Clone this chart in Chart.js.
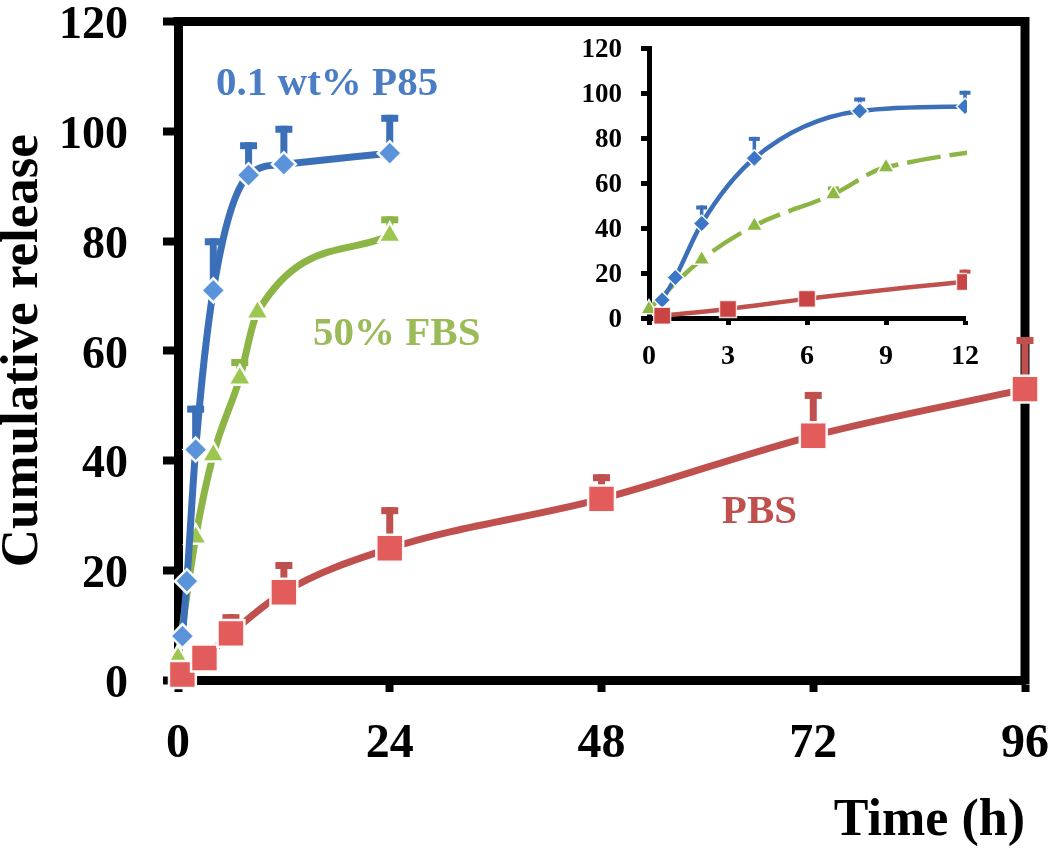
<!DOCTYPE html>
<html>
<head>
<meta charset="utf-8">
<script src="https://cdn.jsdelivr.net/npm/chart.js@4.4.1/dist/chart.umd.min.js"></script>
<style>
html, body { margin: 0; padding: 0; background: #ffffff; }
#wrap { position: relative; width: 1050px; height: 849px; background: #ffffff; }
#wrap canvas { position: absolute; left: 0; top: 0; }
</style>
</head>
<body>
<div id="wrap">
  <canvas id="mainChart" width="1050" height="849"></canvas>
  <canvas id="insetChart" width="1050" height="849"></canvas>
</div>
<script>
// ---------------- data ----------------
const p85Time = [0.5, 1, 2, 4, 8, 12, 24];
const p85Release = [8, 18, 42, 71, 92, 94, 96];
const p85Err = [0, 0, 8, 9.5, 6, 7, 7];

const fbsTime = [0, 2, 4, 7, 9, 24];
const fbsRelease = [4, 26, 41, 55, 67, 81];
const fbsErr = [0, 0, 0, 3.5, 0, 3.5];

const pbsTime = [0.5, 3, 6, 12, 24, 48, 72, 96];
const pbsRelease = [1, 4, 8.5, 16, 24, 33, 44.5, 53];
const pbsErr = [0, 0, 3.5, 5.5, 7.5, 4.5, 8, 9.5];

const mainXTicks = [0, 24, 48, 72, 96];
const insetXTicks = [0, 3, 6, 9, 12];
const yTicks = [0, 20, 40, 60, 80, 100, 120];

const seriesLabels = ['0.1 wt% P85', '50% FBS', 'PBS'];
const axisTitles = ['Cumulative release', 'Time (h)'];

// ---------------- helpers ----------------
const FONT = 'Liberation Serif';
function pts(t, v) { return t.map((x, i) => ({ x: x, y: v[i] })); }

const errorBarPlugin = {
  id: 'errorBars',
  beforeDatasetsDraw(chart, args, opts) {
    const ctx = chart.ctx;
    const xs = chart.scales.x, ys = chart.scales.y;
    chart.data.datasets.forEach((ds) => {
      if (!ds.errors) return;
      ds.data.forEach((p, j) => {
        const e = ds.errors[j];
        if (!e || p.x > xs.max) return;
        const px = xs.getPixelForValue(p.x);
        const y0 = ys.getPixelForValue(p.y);
        const y1 = ys.getPixelForValue(p.y + e);
        ctx.save();
        ctx.strokeStyle = ds.errorColor;
        ctx.lineWidth = opts.stem;
        ctx.beginPath(); ctx.moveTo(px, y0); ctx.lineTo(px, y1); ctx.stroke();
        ctx.lineWidth = opts.capThick;
        ctx.beginPath();
        ctx.moveTo(px - opts.cap / 2, y1 + opts.capThick / 2);
        ctx.lineTo(px + opts.cap / 2, y1 + opts.capThick / 2);
        ctx.stroke();
        ctx.restore();
      });
    });
  }
};

const framePlugin = {
  id: 'frame',
  beforeDatasetsDraw(chart, args, opts) {
    if (!opts.enabled) return;
    const { left, right, top, bottom } = chart.chartArea;
    const ctx = chart.ctx;
    ctx.save();
    ctx.strokeStyle = '#000';
    ctx.lineWidth = opts.width;
    ctx.beginPath();
    ctx.moveTo(left - opts.width / 2, top);
    ctx.lineTo(right, top);
    ctx.lineTo(right, bottom + opts.width / 2);
    ctx.stroke();
    ctx.restore();
  }
};

const seriesTextPlugin = {
  id: 'seriesText',
  afterDatasetsDraw(chart, args, opts) {
    if (!opts.items) return;
    const ctx = chart.ctx;
    const xs = chart.scales.x, ys = chart.scales.y;
    opts.items.forEach(it => {
      ctx.save();
      ctx.font = 'bold ' + it.size + 'px "' + FONT + '"';
      ctx.fillStyle = it.color;
      ctx.textAlign = it.align;
      ctx.textBaseline = 'middle';
      ctx.fillText(it.text, xs.getPixelForValue(it.x), ys.getPixelForValue(it.y));
      ctx.restore();
    });
  }
};

function makeDatasets(s) {
  return [
    {
      label: seriesLabels[2], data: pts(pbsTime, pbsRelease), errors: pbsErr,
      borderColor: '#C0504D', errorColor: '#C0504D', borderWidth: s.line,
      pointStyle: 'rect', pointRadius: s.sq, pointBackgroundColor: s.inset ? '#C94442' : '#E25C5B',
      pointBorderColor: s.inset ? 'rgba(255,255,255,0.8)' : 'rgba(255,255,255,0.95)', pointBorderWidth: s.pb,
      cubicInterpolationMode: 'monotone', fill: false
    },
    {
      label: seriesLabels[0], data: pts(p85Time, p85Release), errors: p85Err,
      borderColor: '#3B6FB7', errorColor: '#3B6FB7', borderWidth: s.line,
      pointStyle: 'rectRot', pointRadius: s.dia, pointBackgroundColor: s.inset ? '#3C76C6' : '#5B93DB',
      pointBorderColor: 'rgba(255,255,255,0.95)', pointBorderWidth: s.pb,
      cubicInterpolationMode: 'monotone', fill: false
    },
    {
      label: seriesLabels[1], data: pts(fbsTime, fbsRelease), errors: fbsErr,
      borderColor: '#8CB546', errorColor: '#8CB546', borderWidth: s.line,
      borderDash: s.inset ? [34, 9] : [],
      pointStyle: 'triangle', pointRadius: s.tri, pointBackgroundColor: s.inset ? '#8DB844' : '#9CC650',
      pointBorderColor: 'rgba(255,255,255,0.95)', pointBorderWidth: s.pb,
      cubicInterpolationMode: 'monotone', fill: false
    }
  ];
}

// ---------------- main chart ----------------
new Chart(document.getElementById('mainChart'), {
  type: 'line',
  data: { datasets: makeDatasets({ line: 7, sq: 19, dia: 12, tri: 13, pb: 2.5, inset: false }).map(d => Object.assign(d, { clip: 30 })) },
  options: {
    responsive: false, animation: false, devicePixelRatio: 1,
    layout: { padding: { left: 0, top: 14, right: 25, bottom: 0 } },
    plugins: {
      legend: { display: false }, tooltip: { enabled: false },
      errorBars: { stem: 7, cap: 17, capThick: 7 },
      frame: { enabled: true, width: 9 },
      seriesText: {
        items: [
          { text: seriesLabels[0], x: 16.9, y: 108.5, color: '#4A7DC4', size: 41, align: 'center' },
          { text: seriesLabels[1], x: 15.3, y: 63, color: '#9BBB59', size: 41, align: 'left' },
          { text: seriesLabels[2], x: 65.9, y: 30.5, color: '#C0504D', size: 41, align: 'center' }
        ]
      }
    },
    scales: {
      x: {
        type: 'linear', min: 0, max: 96,
        afterBuildTicks: s => { s.ticks = mainXTicks.map(v => ({ value: v })); },
        afterFit: s => { s.height = 169; s.paddingLeft = 0; s.paddingRight = 0; },
        border: { display: true, color: '#000', width: 9 },
        grid: { drawOnChartArea: false, drawTicks: true, tickLength: 12, tickWidth: 8, tickColor: '#000', color: '#000' },
        ticks: { color: '#000', font: { family: FONT, weight: 'bold', size: 48 }, padding: 24, maxRotation: 0, autoSkip: false },
        title: { display: true, text: axisTitles[1], align: 'end', color: '#000',
                 font: { family: FONT, weight: 'bold', size: 52, lineHeight: 1 }, padding: { top: 0, bottom: 1 } }
      },
      y: {
        type: 'linear', min: 0, max: 120,
        afterBuildTicks: s => { s.ticks = yTicks.map(v => ({ value: v })); },
        afterFit: s => { s.width = 178; s.paddingTop = 0; s.paddingBottom = 0; },
        border: { display: true, color: '#000', width: 9 },
        grid: { drawOnChartArea: false, drawTicks: true, tickLength: 15, tickWidth: 8, tickColor: '#000', color: '#000' },
        ticks: { color: '#000', font: { family: FONT, weight: 'bold', size: 46 }, padding: 35, labelOffset: 5 },
        title: { display: true, text: axisTitles[0], color: '#000',
                 font: { family: FONT, weight: 'bold', size: 53, lineHeight: 0.88 }, padding: 0 }
      }
    }
  },
  plugins: [framePlugin, errorBarPlugin, seriesTextPlugin]
});

// ---------------- inset chart ----------------
new Chart(document.getElementById('insetChart'), {
  type: 'line',
  data: { datasets: makeDatasets({ line: 4.5, sq: 12, dia: 8.5, tri: 9.5, pb: 1.5, inset: true }).map(d => Object.assign(d, { clip: { left: 20, top: 10, right: 2, bottom: 20 } })) },
  options: {
    responsive: false, animation: false, devicePixelRatio: 1,
    layout: { padding: { left: 560, top: 48, right: 85, bottom: 471 } },
    elements: { line: { capBezierPoints: false } },
    plugins: {
      legend: { display: false }, tooltip: { enabled: false },
      errorBars: { stem: 3.5, cap: 11, capThick: 4 },
      frame: { enabled: false }
    },
    scales: {
      x: {
        type: 'linear', min: 0, max: 12,
        afterBuildTicks: s => { s.ticks = insetXTicks.map(v => ({ value: v })); },
        afterFit: s => { s.height = 60; s.paddingLeft = 0; s.paddingRight = 0; },
        border: { display: true, color: '#000', width: 5 },
        grid: { drawOnChartArea: false, drawTicks: true, tickLength: 7, tickWidth: 5, tickColor: '#000', color: '#000' },
        ticks: { color: '#000', font: { family: FONT, weight: 'bold', size: 28 }, padding: 15, maxRotation: 0, autoSkip: false }
      },
      y: {
        type: 'linear', min: 0, max: 120,
        afterBuildTicks: s => { s.ticks = yTicks.map(v => ({ value: v })); },
        afterFit: s => { s.width = 89; s.paddingTop = 0; s.paddingBottom = 0; },
        border: { display: true, color: '#000', width: 5 },
        grid: { drawOnChartArea: false, drawTicks: true, tickLength: 8, tickWidth: 5, tickColor: '#000', color: '#000' },
        ticks: { color: '#000', font: { family: FONT, weight: 'bold', size: 27 }, padding: 19, labelOffset: 2 }
      }
    }
  },
  plugins: [framePlugin, errorBarPlugin]
});
</script>
</body>
</html>
